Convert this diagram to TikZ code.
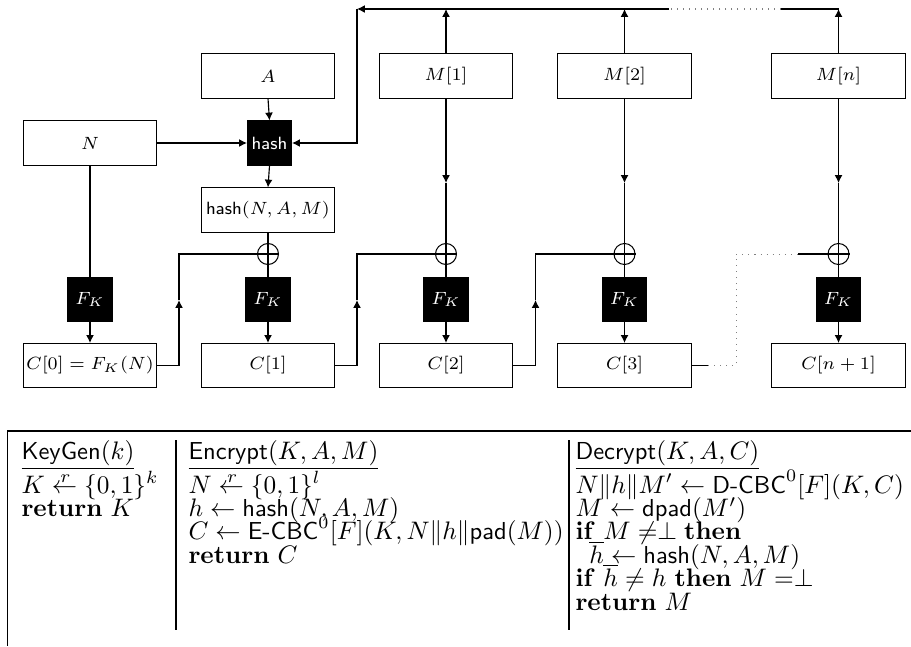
\documentclass[tikz,border=0pt]{standalone}
\usepackage{amsmath,amssymb,mathtools}
\usetikzlibrary{arrows.meta}
\newcommand\diagfont{\fontsize{6.9}{8}\selectfont}
\newcommand\tabfont{\fontsize{9.7}{11.5}\selectfont}
\newcommand\rgets{\mathrel{\mathrlap{\mkern6mu\raisebox{0.95ex}{$\scriptstyle r$}}{\leftarrow}}}
\begin{document}
\begin{tikzpicture}[x=0.395pt,y=-0.395pt,
  wbox/.style={draw, line width=0.4pt, minimum width=52.9pt, minimum height=17.4pt, inner sep=0pt, font=\diagfont},
  bbox/.style={fill=black, draw=black, minimum width=17.4pt, minimum height=17.4pt, inner sep=0pt, text=white, font=\diagfont},
  xorc/.style={draw, circle, minimum size=8.3pt, inner sep=0pt, line width=0.4pt},
  arr/.style={-{Latex[length=3.1pt,width=3.1pt]}},
  wire/.style={line width=0.45pt},
  dots/.style={dotted, gray, line width=0.4pt},
  tline/.style={anchor=base west, inner sep=0pt, font=\tabfont},
  rulel/.style={line width=0.55pt}]
\useasboundingbox (0,0) rectangle (911,646);

% boxes
\node[wbox] (A) at (268,76) {$A$};
\node[wbox] (M1) at (446,76) {$M[1]$};
\node[wbox] (M2) at (624.5,76) {$M[2]$};
\node[wbox] (Mn) at (838.5,76) {$M[n]$};
\node[wbox] (N) at (90,143) {$N$};
\node[bbox] (hash) at (269.5,143) {$\mathsf{hash}$};
\node[wbox] (hNAM) at (268,210) {$\mathsf{hash}(N,A,M)$};

\node[xorc] (x1) at (268,254) {};
\node[xorc] (x2) at (446,254) {};
\node[xorc] (x3) at (624.5,254) {};
\node[xorc] (xn) at (838.5,254) {};

\node[bbox] (f0) at (90,299.5) {$F_K$};
\node[bbox] (f1) at (268,299.5) {$F_K$};
\node[bbox] (f2) at (446,299.5) {$F_K$};
\node[bbox] (f3) at (624.5,299.5) {$F_K$};
\node[bbox] (fn) at (838.5,299.5) {$F_K$};

\node[wbox] (C0) at (90,365.5) {$C[0]=F_K(N)$};
\node[wbox] (C1) at (268,365.5) {$C[1]$};
\node[wbox] (C2) at (446,365.5) {$C[2]$};
\node[wbox] (C3) at (624.5,365.5) {$C[3]$};
\node[wbox] (Cn) at (838.5,365.5) {$C[n+1]$};

% xor crosses
\foreach \x in {x1,x2,x3,xn}{
  \draw[wire] (\x.north) -- (\x.south) (\x.west) -- (\x.east);
}

% top feedback
\coordinate (t1) at (446,9);
\coordinate (t2) at (624.5,9);
\coordinate (tn) at (838.5,9);
\coordinate (tl) at (357,9);
\coordinate (ta) at (669,9);
\coordinate (tb) at (781,9);
\draw[wire,arr] (M1.north) -- (t1);
\draw[wire,arr] (M2.north) -- (t2);
\draw[wire,arr] (Mn.north) -- (tn);
\draw[wire] (tn) -- (tb);
\draw[dots] (tb) -- (ta);
\draw[wire,arr] (ta) -- (tl);
\draw[wire,arr] (tl) |- (hash.east);

% hash inputs
\draw[wire,arr] (A.south) -- (hash.north);
\draw[wire,arr] (N.east) -- (hash.west);
\draw[wire,arr] (hash.south) -- (hNAM.north);
\draw[wire] (hNAM.south) -- (x1.north);

% message to xor
\coordinate (m1) at (446,183);
\coordinate (m2) at (624.5,183);
\coordinate (mn) at (838.5,183);
\draw[wire,arr] (M1.south) -- (m1);
\draw[wire] (m1) -- (x2.north);
\draw[wire,arr] (M2.south) -- (m2);
\draw[wire] (m2) -- (x3.north);
\draw[wire,arr] (Mn.south) -- (mn);
\draw[wire] (mn) -- (xn.north);

% xor to F
\draw[wire] (N.south) -- (f0.north);
\draw[wire] (x1.south) -- (f1.north);
\draw[wire] (x2.south) -- (f2.north);
\draw[wire] (x3.south) -- (f3.north);
\draw[wire] (xn.south) -- (fn.north);

% F to C
\draw[wire,arr] (f0.south) -- (C0.north);
\draw[wire,arr] (f1.south) -- (C1.north);
\draw[wire,arr] (f2.south) -- (C2.north);
\draw[wire,arr] (f3.south) -- (C3.north);
\draw[wire,arr] (fn.south) -- (Cn.north);

% chaining
\coordinate (c0) at (179,300);
\coordinate (c1) at (357,300);
\coordinate (c2) at (535.5,300);
\draw[wire,arr] (C0.east) -| (c0);
\draw[wire] (c0) |- (x1.west);
\draw[wire,arr] (C1.east) -| (c1);
\draw[wire] (c1) |- (x2.west);
\draw[wire,arr] (C2.east) -| (c2);
\draw[wire] (c2) |- (x3.west);
\coordinate (d1) at (708,365.5);
\coordinate (d2) at (736,365.5);
\coordinate (d3) at (736,254);
\coordinate (d4) at (798,254);
\draw[wire] (C3.east) -- (d1);
\draw[dots] (d1) -- (d2) -- (d3) -- (d4);
\draw[wire] (d4) -- (xn.west);

% table rules
\draw[rulel] (7,431) -- (911,431);
\draw[rulel] (7.5,431) -- (7.5,646);
\draw[rulel] (176,440) -- (176,630);
\draw[rulel] (569,440) -- (569,630);

% KeyGen
\node[tline] (k0) at (21,459) {$\underline{\textsf{KeyGen}(k)}$};
\node[tline] (k1) at (21,493) {$K \rgets \{0,1\}^k$};
\node[tline] (k2) at (21,516.4) {$\mathbf{return}\ K$};
% Encrypt
\node[tline] (e0) at (188,459) {$\underline{\textsf{Encrypt}(K,A,M)}$};
\node[tline] (e1) at (188,493) {$N \rgets \{0,1\}^l$};
\node[tline] (e2) at (188,516.4) {$h \leftarrow \textsf{hash}(N,A,M)$};
\node[tline] (e3) at (188,539.8) {$C \leftarrow \textsf{E-CBC}^0[F](K,N\|h\|\textsf{pad}(M))$};
\node[tline] (e4) at (188,563.2) {$\mathbf{return}\ C$};
% Decrypt
\node[tline] (d0) at (575,459) {$\underline{\textsf{Decrypt}(K,A,C)}$};
\node[tline] (dd1) at (575,493) {$N\|h\|M' \leftarrow \textsf{D-CBC}^0[F](K,C)$};
\node[tline] (dd2) at (575,516.4) {$M \leftarrow \textsf{dpad}(M')$};
\node[tline] (dd3) at (575,539.8) {$\mathbf{if}\ M \mathrel{{\neq}{\perp}} \mathbf{then}$};
\node[tline] (dd4) at (575,563.2) {$\hspace{5.5pt}\overline{h} \leftarrow \textsf{hash}(N,A,M)$};
\node[tline] (dd5) at (575,586.6) {$\mathbf{if}\ \overline{h} \neq h\ \mathbf{then}\ M \mathrel{{=}{\perp}}$};
\node[tline] (dd6) at (575,610) {$\mathbf{return}\ M$};
\end{tikzpicture}
\end{document}
